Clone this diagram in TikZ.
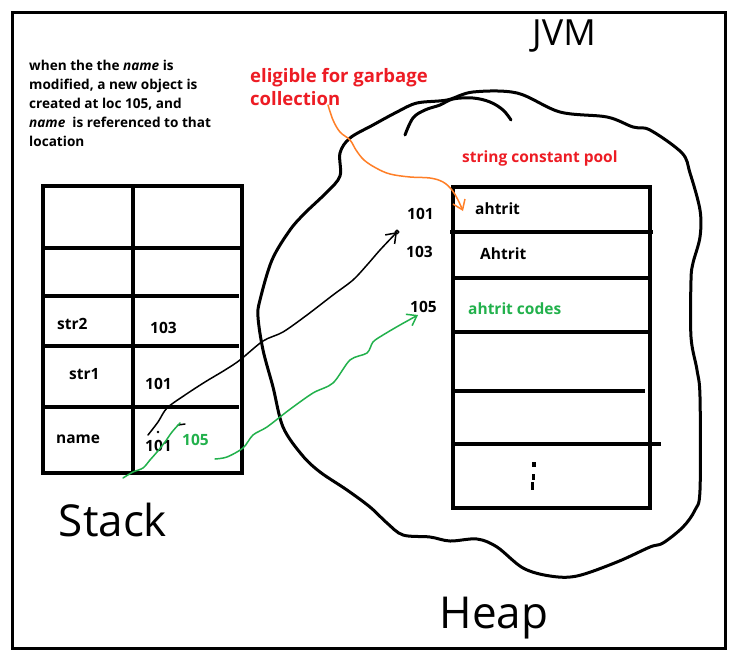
\documentclass[tikz,border=0pt]{standalone}
\usepackage{fontspec}
\setmainfont{Open Sans}
\usetikzlibrary{arrows.meta}
\definecolor{pred}{RGB}{237,28,36}
\definecolor{pgreen}{RGB}{34,177,76}
\definecolor{porange}{RGB}{255,127,39}
\tikzset{
  tbl/.style={line width=3.5pt},
  frame/.style={line width=3pt},
  blob/.style={line width=3pt, line join=round, line cap=round},
  lbl/.style={inner sep=0pt, anchor=base west, font=\bfseries\fontsize{15.5}{18}\selectfont},
  note/.style={inner sep=0pt, anchor=north west, align=left, font=\bfseries\fontsize{13.6}{19}\selectfont},
  hand/.style={inner sep=0pt, font=\fontsize{44}{44}\selectfont},
  pen/.style={line width=1.5pt, line join=round, line cap=round},
  barb/.style={-{Straight Barb[length=9pt,width=13pt,line width=1.5pt]}},
}
\begin{document}
\begin{tikzpicture}[x=1pt,y=-1pt]
\useasboundingbox (0,0) rectangle (741,667);
\fill[white] (0,0) rectangle (741,667);
% outer frame
\draw[frame] (12,12) rectangle (725,648);

% heap blob
\draw[blob] plot[smooth cycle, tension=0.55] coordinates {
 (327,192) (340,176) (340,153) (350,138) (373,125) (397,112) (417,103) (447,100)
 (473,92) (517,93) (560,112) (607,117) (633,127) (650,130) (682,153) (690,173)
 (700,210) (700,237) (693,263) (691,280) (691,337) (697,370) (700,397) (700,490)
 (695,510) (683,527) (663,543) (650,547) (617,562) (577,576) (550,576) (523,568)
 (497,547) (477,539) (450,541) (430,537) (403,535) (387,523) (370,507) (347,490)
 (320,472) (302,455) (283,427) (273,387) (263,350) (258,317) (260,300) (272,260)
 (290,230) (305,213)};
\draw[blob] plot[smooth, tension=0.6] coordinates {
 (405,135) (413,118) (425,110) (440,105) (453,99) (473,98) (490,102) (503,110) (511,120)};

% stack table
\draw[tbl] (43,186) rectangle (242,473);
\draw[tbl] (133,186) -- (133,473);
\draw[tbl] (43,248) -- (242,248);
\draw[tbl] (42,296) -- (239,296);
\draw[tbl] (42,346) -- (239,346);
\draw[tbl] (43,407) -- (239,407);

% heap table
\draw[tbl] (453,187) rectangle (650,508);
\draw[tbl] (450,232) -- (653,232);
\draw[tbl] (453,278) -- (650,278);
\draw[tbl] (453,332) -- (650,332);
\draw[tbl] (453,391) -- (645,391);
\draw[tbl] (453,444) -- (661,444);
% vertical dots in last cell
\fill (532,462) rectangle (536,467);
\fill (532,474) rectangle (535,480);
\fill (531,482) rectangle (534,490);

% texts
\node[note] (noteTxt) at (29,60) {when the the \textit{name} is\\modified, a new object is\\created at loc 105, and\\\textit{name}\ \ is referenced to that\\location};
\node[lbl, text=pred, font=\bfseries\fontsize{18.5}{23}\selectfont, anchor=north west, align=left] (gc) at (250,68) {eligible for garbage\\collection};
\node[lbl, text=pred] (pool) at (462,162) {string constant pool};
\node[hand, font=\fontsize{36}{36}\selectfont] (jvm) at (564,36) {JVM};
\node[hand] (stack) at (113,520) {Stack};
\node[hand] (heap) at (494,618) {Heap};

\node[lbl] (sStr2) at (57,329) {str2};
\node[lbl] (sV103) at (150,333) {103};
\node[lbl] (sStr1) at (69,379) {str1};
\node[lbl] (sV101) at (145,389) {101};
\node[lbl] (sName) at (56,443) {name};
\node[lbl] (sN101) at (145,451) {101};
\node[lbl, text=pgreen] (sN105) at (182,445) {105};

\node[lbl] (hA1) at (475,214) {ahtrit};
\node[lbl] (hA2) at (480,259) {Ahtrit};
\node[lbl, text=pgreen] (hA3) at (468,314) {ahtrit codes};
\node[lbl] (h101) at (407,219) {101};
\node[lbl] (h103) at (406,257) {103};
\node[lbl] (h105) at (410,312) {105};

% connectors
\coordinate (oS) at (328,105);
\coordinate (oE) at (463,211);
\draw[pen, porange, barb] plot[smooth, tension=0.6] coordinates {
 (oS) (333,120) (340,132) (350,140) (356,150) (364,160) (376,168) (390,174)
 (410,177) (430,178) (443,182) (452,190) (458,200) (oE)};

\coordinate (bS) at (148,435);
\coordinate (bE) at (397,232);
\draw[pen, barb] plot[smooth, tension=0.5] coordinates {
 (bS) (158,422) (167,408) (185,395) (205,382) (225,370) (240,360) (263,341)
 (283,332) (307,315) (333,295) (353,280) (367,265) (380,250) (bE)};
\draw[pen] (bE) circle (1.8);
\fill (158,432) circle (1.3);
\draw[pen] (178,425) -- (185,424);

\coordinate (g1S) at (123,478);
\coordinate (g1E) at (180,423);
\draw[pen, pgreen] plot[smooth, tension=0.5] coordinates {
 (g1S) (133,472) (143,468) (150,460) (157,452) (165,442) (172,432) (g1E)};

\coordinate (g2S) at (215,459);
\coordinate (g2E) at (418,315);
\draw[pen, pgreen, barb] plot[smooth, tension=0.5] coordinates {
 (g2S) (227,457) (243,448) (253,435) (267,427) (289,410) (313,393) (333,383)
 (350,360) (367,353) (373,342) (383,335) (400,325) (g2E)};
\end{tikzpicture}
\end{document}
